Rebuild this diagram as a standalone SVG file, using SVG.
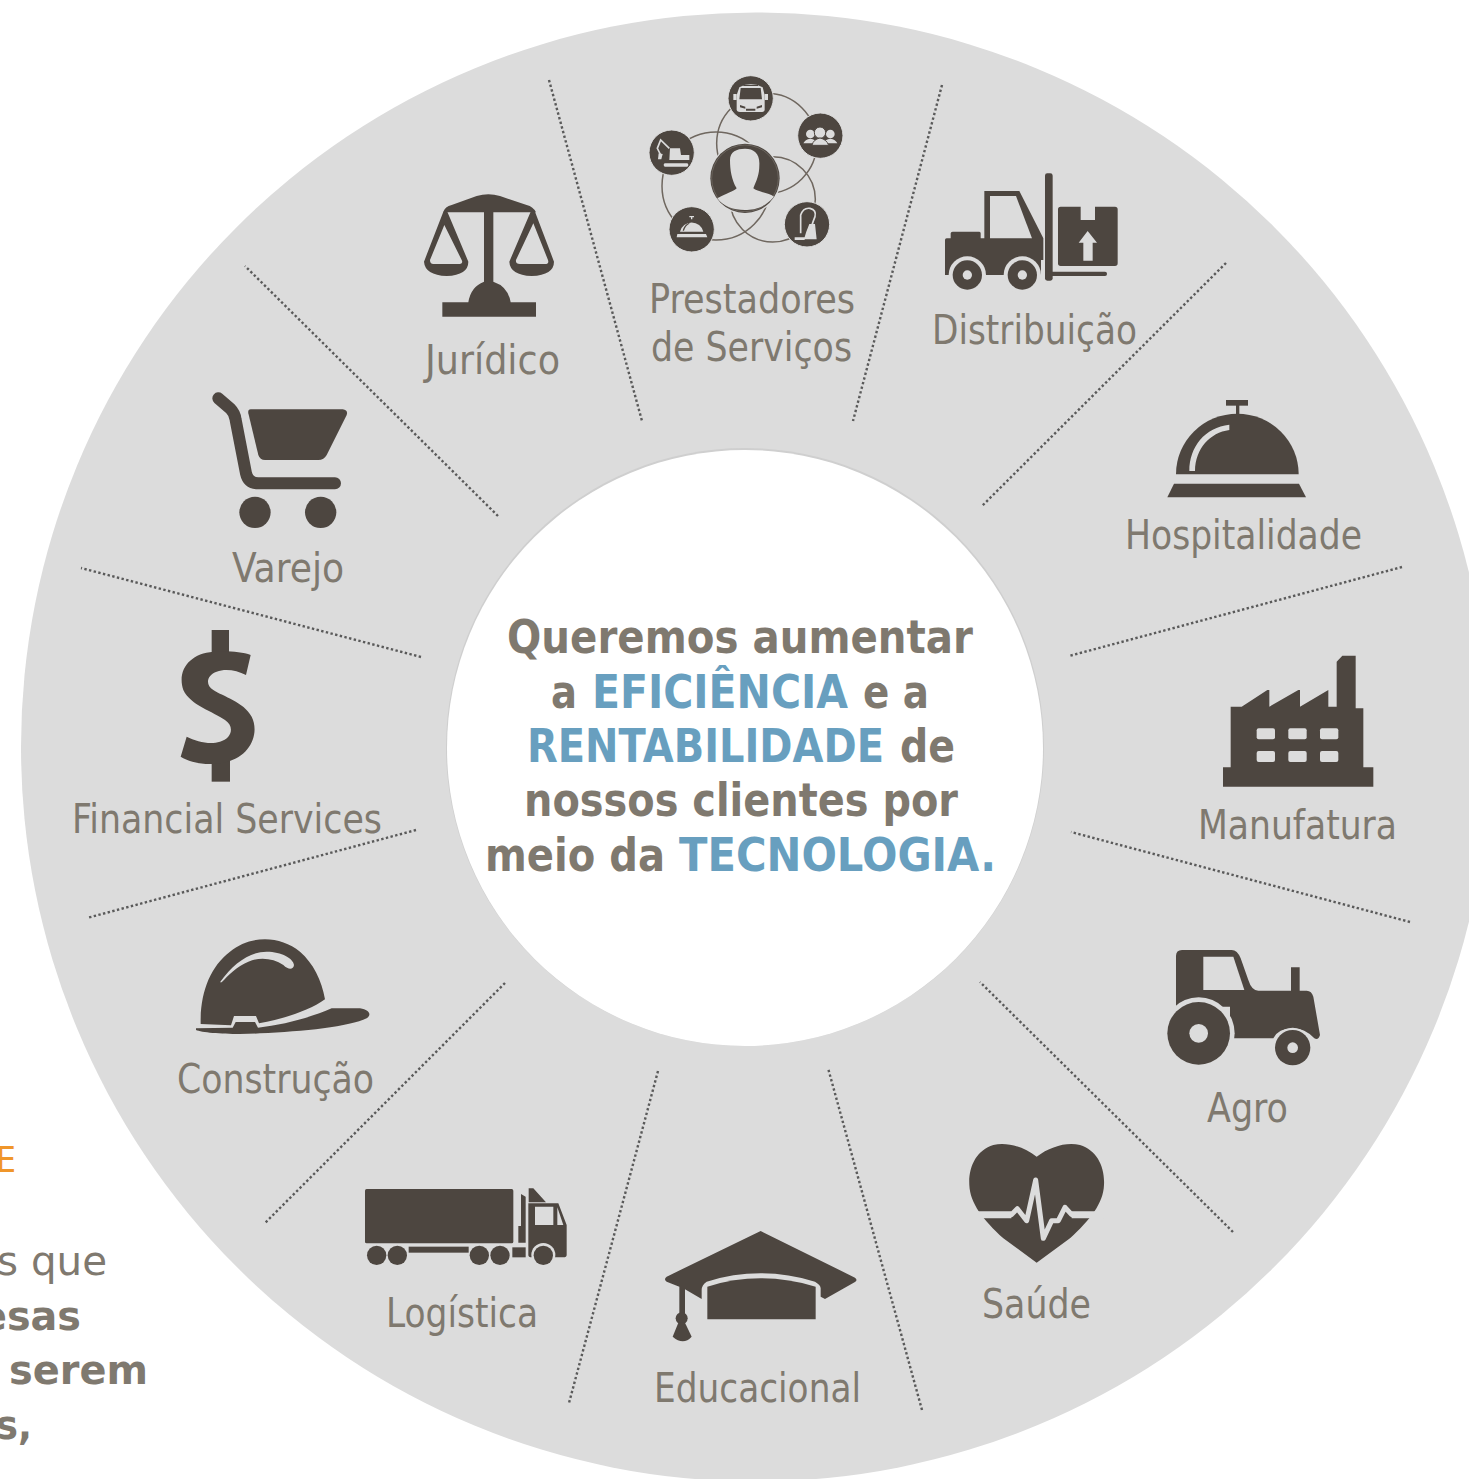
<svg xmlns="http://www.w3.org/2000/svg" width="1469" height="1479" viewBox="0 0 1469 1479">
<style>
text{font-family:"DejaVu Sans","Liberation Sans",sans-serif}
.l{font-size:40px;fill:#7f796f;font-family:"DejaVu Sans Condensed","DejaVu Sans",sans-serif}
.c{font-size:46px;font-weight:700;fill:#7f796f}
.b{fill:#689fbf}
.d{fill:#4d4640}
.g{fill:#dcdcdc}
.z{transform:scale(.33333)}
.r{fill:none;stroke:#6f675f;stroke-width:4.5}
#connectors line{stroke:#5a5a5a;stroke-width:2.4;stroke-dasharray:2.4 2.4}
</style>
<rect width="1469" height="1479" fill="#fff"/>
<g id="left-text">
<text x="-4" y="1172" font-size="36" fill="#f0962a" textLength="20" lengthAdjust="spacingAndGlyphs">E</text>
<text x="-3" y="1275" font-size="40" fill="#7f796f" textLength="110" lengthAdjust="spacingAndGlyphs">s que</text>
<text x="-20" y="1330" font-size="40" font-weight="700" fill="#7f796f" textLength="101" lengthAdjust="spacingAndGlyphs">esas</text>
<text x="9" y="1384" font-size="40" font-weight="700" fill="#7f796f" textLength="139" lengthAdjust="spacingAndGlyphs">serem</text>
<text x="-4" y="1439" font-size="40" font-weight="700" fill="#7f796f" textLength="36" lengthAdjust="spacingAndGlyphs">s,</text>
</g>
<g id="ring"><circle cx="755.5" cy="747" r="734.5" class="g"/></g>
<g id="center">
<circle cx="745" cy="747" r="299" fill="#cfcfcf"/>
<circle cx="745" cy="748" r="298" fill="#fff"/>
<text class="c" y="653"><tspan x="507" textLength="466" lengthAdjust="spacingAndGlyphs">Queremos aumentar</tspan></text>
<text class="c" y="708"><tspan x="551" textLength="26" lengthAdjust="spacingAndGlyphs">a</tspan><tspan class="b" x="592" textLength="256" lengthAdjust="spacingAndGlyphs">EFICIÊNCIA</tspan><tspan x="863" textLength="66" lengthAdjust="spacingAndGlyphs">e a</tspan></text>
<text class="c" y="762"><tspan class="b" x="527" textLength="357" lengthAdjust="spacingAndGlyphs">RENTABILIDADE</tspan><tspan x="900" textLength="55" lengthAdjust="spacingAndGlyphs">de</tspan></text>
<text class="c" y="816"><tspan x="524" textLength="434" lengthAdjust="spacingAndGlyphs">nossos clientes por</tspan></text>
<text class="c" y="871"><tspan x="485" textLength="180" lengthAdjust="spacingAndGlyphs">meio da</tspan><tspan class="b" x="679" textLength="317" lengthAdjust="spacingAndGlyphs">TECNOLOGIA.</tspan></text>
</g>
<g id="connectors">
<line x1="549" y1="80" x2="642" y2="421"/>
<line x1="942" y1="85" x2="853" y2="421"/>
<line x1="1226" y1="263" x2="982" y2="506"/>
<line x1="1402" y1="567" x2="1069" y2="656"/>
<line x1="1410" y1="922" x2="1071" y2="832"/>
<line x1="1233" y1="1232" x2="980" y2="982"/>
<line x1="922" y1="1410" x2="828" y2="1068"/>
<line x1="658" y1="1071" x2="569" y2="1403"/>
<line x1="505" y1="983" x2="264" y2="1224"/>
<line x1="416" y1="830" x2="87" y2="918"/>
<line x1="421" y1="657" x2="81" y2="568"/>
<line x1="498" y1="516" x2="245" y2="266"/>
</g>

<g id="prestadores">
<g transform="translate(630 60)"><g class="z">
<circle class="r" cx="410" cy="250" r="150"/><circle class="r" cx="258" cy="378" r="162"/><circle class="r" cx="428" cy="418" r="128"/>
<circle cx="345" cy="355" r="108" class="g"/><circle cx="345" cy="355" r="104" class="d"/><circle cx="345" cy="355" r="100" fill="none" stroke="#8a847c" stroke-width="1.5"/>
<path class="g" d="M300 300C300 275 320 266 345 266C372 266 390 280 388 315C388 345 380 360 370 385C380 395 420 400 432 410C400 446 370 450 345 450C310 450 280 440 262 415C290 400 310 395 320 385C305 360 300 330 300 300Z"/>
<circle cx="362" cy="115" r="68" class="d" stroke="#dcdcdc" stroke-width="3"/>
<path class="g" d="M328 82Q362 62 398 82L404 105V148Q404 156 396 156H330Q320 156 320 148V105Z"/><path class="d" d="M332 84H392L396 118H328ZM340 74H384V78H340ZM330 135L346 140V146L330 142ZM396 135L380 140V146L396 142ZM348 146H376V152H348Z"/><rect class="g" x="310" y="102" width="10" height="18"/><rect class="g" x="404" y="102" width="10" height="18"/>
<circle cx="571" cy="227" r="68" class="d" stroke="#dcdcdc" stroke-width="3"/>
<g class="g"><circle cx="541" cy="222" r="13"/><circle cx="601" cy="222" r="13"/><path d="M520 250Q525 238 541 236Q557 238 562 250H520ZM580 250Q585 238 601 236Q617 238 622 250H580Z"/></g>
<circle cx="570" cy="218" r="17" class="g" stroke="#4d4640" stroke-width="3"/><path class="g" stroke="#4d4640" stroke-width="3" d="M546 256Q550 238 570 234Q590 238 596 256Z"/>
<circle cx="531" cy="493" r="68" class="d" stroke="#dcdcdc" stroke-width="3"/>
<path fill="none" stroke="#dcdcdc" stroke-width="5" d="M512 520V465Q520 442 540 445Q560 450 555 470Q548 488 546 495"/><path class="g" d="M538 492H555L560 538H522Q528 515 538 492ZM494 532H524V540H494Z"/>
<circle cx="185" cy="508" r="68" class="d" stroke="#dcdcdc" stroke-width="3"/>
<path class="g" d="M150 515A36 36 0 0 1 220 515ZM178 468H192V472H187V478H183V472H178ZM142 522H228L232 532H140Z"/><path class="d" d="M158 512Q162 494 178 488V491Q166 497 162 512Z"/>
<circle cx="125" cy="278" r="68" class="d" stroke="#dcdcdc" stroke-width="3"/>
<path class="g" d="M120 265H150L153 285H178V300H118ZM104 310H172Q178 315 172 320H104Q98 315 104 310Z"/><path fill="none" stroke="#dcdcdc" stroke-width="5" d="M118 265L92 240L82 265L92 285"/><path class="g" d="M86 280L98 282L94 298H84Z"/>
</g></g>
<text class="l" x="649" y="313" textLength="206" lengthAdjust="spacingAndGlyphs">Prestadores</text>
<text class="l" x="651" y="361" textLength="201" lengthAdjust="spacingAndGlyphs">de Serviços</text>
</g>

<g id="distribuicao">
<g transform="translate(930 160)"><g class="z">
<path class="d" d="M45 240Q45 235 50 235H62V220Q62 215 68 215H148Q152 215 152 220V235H163V93H268L340 235V345H45Z"/>
<path class="g" d="M180 108H258L306 235H180Z"/>
<circle cx="112" cy="345" r="56" class="g"/><circle cx="112" cy="345" r="44" class="d"/><circle cx="112" cy="345" r="14" class="g"/>
<circle cx="277" cy="345" r="56" class="g"/><circle cx="277" cy="345" r="44" class="d"/><circle cx="277" cy="345" r="14" class="g"/>
<rect class="g" x="333" y="300" width="12" height="60"/>
<rect class="d" x="345" y="40" width="23" height="322" rx="7"/><rect class="d" x="345" y="335" width="186" height="13" rx="6"/>
<path class="d" d="M392 140H452V180H495V140H555Q563 140 563 148V310Q563 318 555 318H392Q384 318 384 310V148Q384 140 392 140Z"/>
<path class="g" d="M473 213L501 248H488V302H460V248H446Z"/>
</g></g>
<text class="l" x="932" y="344" textLength="205" lengthAdjust="spacingAndGlyphs">Distribuição</text>
</g>

<g id="hospitalidade">
<g transform="translate(1150 390)"><g class="z">
<rect class="d" x="228" y="30" width="66" height="17"/><rect class="d" x="258" y="45" width="10" height="30"/>
<path class="d" d="M78 253A184 182 0 0 1 446 253Z"/>
<path class="g" d="M118 243C118 170 165 112 238 104V120C180 128 136 175 135 243Z"/>
<path class="d" d="M72 281H447L468 322H52Z"/>
</g></g>
<text class="l" x="1125" y="549" textLength="237" lengthAdjust="spacingAndGlyphs">Hospitalidade</text>
</g>

<g id="manufatura">
<g transform="translate(1150 390)"><g class="z">
<path class="d" d="M242 950H275L352 900H358V950L445 900H450V950L535 900V950H560V815L577 797H617V955H640V1132H670V1190H219V1132H242Z"/>
<g class="g"><rect x="320" y="1015" width="55" height="33" rx="6"/><rect x="415" y="1015" width="55" height="33" rx="6"/><rect x="510" y="1015" width="55" height="33" rx="6"/><rect x="320" y="1083" width="55" height="33" rx="6"/><rect x="415" y="1083" width="55" height="33" rx="6"/><rect x="510" y="1083" width="55" height="33" rx="6"/></g>
</g></g>
<text class="l" x="1198" y="839" textLength="199" lengthAdjust="spacingAndGlyphs">Manufatura</text>
</g>

<g id="agro">
<g transform="translate(1150 930)"><g class="z">
<path class="d" d="M78 230V78Q78 60 96 60H245Q262 60 272 85L295 150Q305 182 325 182H423V112H449V182H470Q485 182 490 200L510 315Q505 332 493 325Q465 295 428 295Q385 295 370 325H240V230Z"/>
<path class="g" d="M160 80H250L283 180H160Z"/>
<circle cx="146" cy="310" r="108" class="g"/><circle cx="146" cy="310" r="94" class="d"/><circle cx="146" cy="310" r="28" class="g"/>
<circle cx="428" cy="353" r="60" class="g"/><circle cx="428" cy="353" r="53" class="d"/><circle cx="428" cy="353" r="16" class="g"/>
</g></g>
<text class="l" x="1207" y="1122" textLength="81" lengthAdjust="spacingAndGlyphs">Agro</text>
</g>

<g id="saude">
<g transform="translate(650 1130)"><g class="z">
<path class="d" d="M1160 80C1200 50 1250 35 1290 45C1340 60 1365 110 1362 165C1360 220 1320 270 1260 325L1160 398L1060 325C1000 270 960 220 958 165C955 110 980 60 1030 45C1070 35 1120 50 1160 80Z"/>
<path fill="none" stroke="#dcdcdc" stroke-width="21" d="M960 254H1084M1265 254H1360"/>
<path fill="none" stroke="#dcdcdc" stroke-width="15" stroke-linejoin="round" d="M1080 254H1084L1102 236L1130 272L1157 150L1180 325L1205 272H1225L1245 232L1265 254H1270"/>
</g></g>
<text class="l" x="982" y="1318" textLength="109" lengthAdjust="spacingAndGlyphs">Saúde</text>
</g>

<g id="educacional">
<g transform="translate(650 1130)"><g class="z">
<path class="d" d="M332 303L615 443Q624 450 615 456L525 507L512 500V475Q512 465 495 455Q330 405 170 455Q155 465 155 480V507L105 478V552H88V470L50 455Q40 448 50 440Z"/>
<path class="d" d="M172 470Q330 420 497 470V568H172Z"/>
<circle class="d" cx="95" cy="565" r="18"/>
<path class="d" d="M85 578H105L125 620Q100 648 68 620Z"/>
</g></g>
<text class="l" x="654" y="1402" textLength="207" lengthAdjust="spacingAndGlyphs">Educacional</text>
</g>

<g id="logistica">
<g transform="translate(350 1170)"><g class="z">
<rect class="d" x="45" y="57" width="445" height="163" rx="5"/>
<rect class="d" x="176" y="230" width="180" height="18"/>
<circle class="d" cx="80" cy="256" r="29"/><circle class="d" cx="142" cy="256" r="29"/><circle class="d" cx="388" cy="256" r="29"/><circle class="d" cx="450" cy="256" r="29"/>
<rect class="d" x="487" y="232" width="40" height="30"/>
<path class="d" d="M513 72L527 80V218H505V168H513ZM536 55H550L588 97H536ZM535 100H625L650 165V255Q650 262 640 262H545Q535 262 535 255Z"/>
<path class="g" d="M555 110H610V165H555ZM622 112L640 165H622Z"/>
<circle class="g" cx="580" cy="255" r="36"/><circle class="d" cx="580" cy="256" r="29"/>
</g></g>
<text class="l" x="386" y="1327" textLength="152" lengthAdjust="spacingAndGlyphs">Logística</text>
</g>

<g id="construcao">
<g transform="translate(170 920)"><g class="z">
<path class="d" d="M92 312C90 220 120 140 180 95C240 45 330 45 390 95C430 130 455 180 465 238C420 270 350 295 267 310L258 288H192L183 316Z"/>
<path class="g" d="M150 187C190 130 240 95 290 95C335 95 370 115 372 135C370 150 355 150 340 135C310 115 270 110 235 125C200 140 175 165 155 187Z"/>
<path class="d" d="M78 325L188 323L197 306H255L264 323C340 315 430 290 485 265H570C600 270 605 285 590 295C540 320 400 335 270 340C200 345 100 340 78 330Z"/>
</g></g>
<text class="l" x="177" y="1093" textLength="197" lengthAdjust="spacingAndGlyphs">Construção</text>
</g>

<g id="financial">
<g transform="translate(160 620)"><g class="z">
<rect class="d" x="155" y="30" width="52" height="75"/><rect class="d" x="155" y="420" width="55" height="65"/>
<path class="d" d="M272 105L258 165C230 150 195 145 170 155C140 165 135 195 160 210C190 230 250 245 275 290C300 340 270 410 200 425C150 440 95 430 62 410L80 350C110 365 150 375 180 365C215 355 225 320 195 300C160 275 90 255 70 210C50 150 90 100 160 95C200 92 245 95 272 105Z"/>
</g></g>
<text class="l" x="72" y="833" textLength="310" lengthAdjust="spacingAndGlyphs">Financial Services</text>
</g>

<g id="varejo">
<g transform="translate(170 380)"><g class="z">
<path fill="none" stroke="#4d4640" stroke-width="36" stroke-linecap="round" stroke-linejoin="round" d="M145 55L180 85Q195 100 197 120L228 280Q235 310 265 310H495"/>
<path class="d" d="M242 88H518Q535 90 530 105L470 225Q462 240 445 240H285Q270 240 265 225L235 100Q233 88 242 88Z"/>
<circle class="d" cx="255" cy="397" r="47"/><circle class="d" cx="452" cy="397" r="47"/>
</g></g>
<text class="l" x="232" y="582" textLength="112" lengthAdjust="spacingAndGlyphs">Varejo</text>
</g>

<g id="juridico">
<g transform="translate(410 180)"><g class="z">
<path class="d" d="M100 95Q105 80 125 75L200 48Q235 38 270 48L350 75Q370 80 378 97H250V305Q295 320 302 367H378V410H97V367H175Q182 320 222 305V97H100Z"/>
<path class="d" fill-rule="evenodd" d="M100 95H112L175 245Q175 285 110 288Q45 285 42 245ZM103 135L60 240Q60 252 70 252H150Q160 250 155 240Z"/>
<path class="d" fill-rule="evenodd" d="M362 95H375L432 245Q432 285 365 288Q300 285 298 245ZM370 130L318 240Q316 252 330 252H405Q418 252 414 240Z"/>
</g></g>
<text class="l" x="425" y="374" textLength="135" lengthAdjust="spacingAndGlyphs">Jurídico</text>
</g>
</svg>
